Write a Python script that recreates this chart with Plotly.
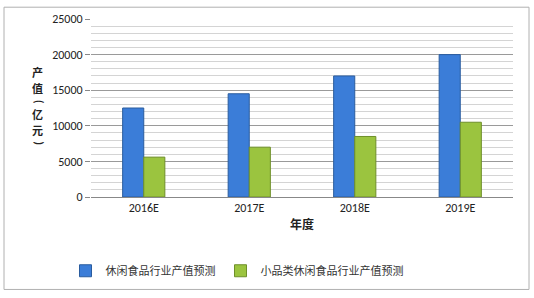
import plotly.graph_objects as go

years = ["2016E", "2017E", "2018E", "2019E"]
snack_total = [12500, 14500, 17000, 20000]
small_snack = [5600, 7000, 8500, 10500]
series_names = ["休闲食品行业产值预测", "小品类休闲食品行业产值预测"]
y_ticks = [0, 5000, 10000, 15000, 20000, 25000]
y_tick_text = [str(v) for v in y_ticks]
y_title_chars = ["产", "值", "(", "亿", "元", ")"]
y_title_pos = [70, 86, 100, 113, 129, 142]

W, H = 534, 298
L, R, T, B = 91, 21, 16, 101
pw, ph = W - L - R, H - T - B

def px_x(x):
    return (x - L) / pw

def px_y(y):
    return (H - B - y) / ph

cjk = "Noto Sans CJK SC"
latin = "Carlito, Liberation Sans, Arial"

fig = go.Figure()
fig.add_trace(go.Bar(x=years, y=snack_total, name=series_names[0],
                     marker=dict(color="#3B7DD8", line=dict(color="#2A5C9E", width=1))))
fig.add_trace(go.Bar(x=years, y=small_snack, name=series_names[1],
                     marker=dict(color="#9BC43F", line=dict(color="#6E8F2A", width=1))))

fig.update_layout(
    width=W, height=H,
    margin=dict(l=L, r=R, t=T, b=B),
    paper_bgcolor="white", plot_bgcolor="white",
    barmode="group", bargap=0.6, bargroupgap=0,
    font=dict(family=latin, size=12, color="#222"),
    showlegend=True,
    legend=dict(orientation="h", x=px_x(237), xanchor="center", y=px_y(272), yanchor="middle",
                font=dict(family=cjk, size=11, color="#333"), itemwidth=30,
                traceorder="normal"),
    xaxis=dict(showline=True, linecolor="#888", linewidth=1, ticks="",
               tickfont=dict(family=latin, size=12), showgrid=False,
               title=dict(text="<b>年度</b>", font=dict(family=cjk, size=12), standoff=6)),
    yaxis=dict(range=[0, 25000], tickvals=y_ticks, ticktext=y_tick_text, showline=False,
               ticks="outside", ticklen=5, tickcolor="#888", tickfont=dict(family=latin, size=12),
               showgrid=True, gridcolor="#9A9A9A", gridwidth=1, zeroline=False,
               minor=dict(dtick=1000, showgrid=True, gridcolor="#D4D4D4", gridwidth=1)),
)

for ch, yy in zip(y_title_chars, y_title_pos):
    is_paren = ch in "()"
    fig.add_annotation(text="<b>" + ch + "</b>", xref="paper", yref="paper",
                       x=px_x(30), y=px_y(yy), showarrow=False, yanchor="middle",
                       textangle=90 if is_paren else 0,
                       font=dict(family=latin if is_paren else cjk, size=11, color="#222"))

fig.add_shape(type="rect", xref="paper", yref="paper",
              x0=px_x(4), x1=px_x(529), y0=px_y(4), y1=px_y(291),
              line=dict(color="#B0B0B0", width=1), layer="below")

fig.write_html("out.html")
